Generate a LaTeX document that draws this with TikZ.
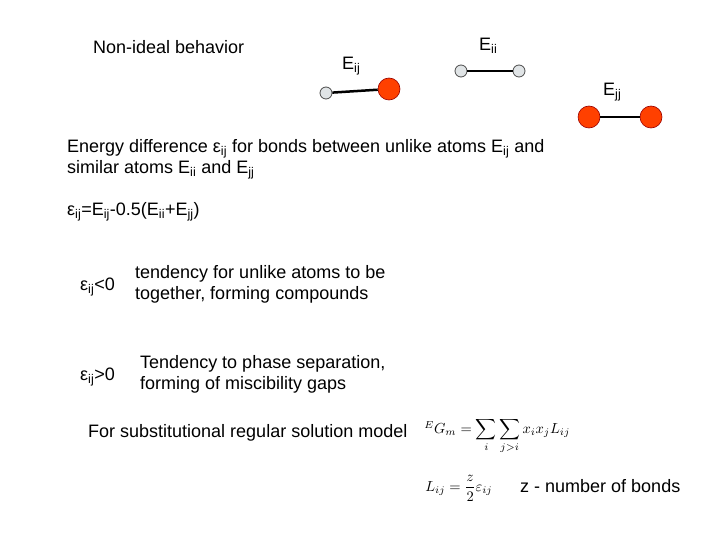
\documentclass[tikz,border=0pt]{standalone}
\usepackage{fontspec}
\setmainfont{Liberation Sans}
\begin{document}
\begin{tikzpicture}[x=1pt,y=-1pt,
  txt/.style={anchor=west,inner sep=0pt,font=\fontsize{18}{21}\selectfont,align=left},
  small/.style={circle,draw=black!70,fill=cyan!10!gray!25,minimum size=12pt,inner sep=0pt,line width=0.8pt},
  big/.style={circle,draw=red!60!black,fill=red!50!orange,minimum size=22pt,inner sep=0pt,line width=0.6pt},
  bond/.style={line width=2.5pt},
  mth/.style={anchor=west,inner sep=0pt,scale=1.45}]
\useasboundingbox[fill=white] (0,0) rectangle (720,540);
\node[small] (a1) at (326,93) {};
\node[big] (a2) at (389,89) {};
\draw[bond] (a1) -- (a2);
\node[small] (b1) at (461,71) {};
\node[small] (b2) at (519,71) {};
\draw[bond] (b1) -- (b2);
\node[big] (c1) at (589,117) {};
\node[big] (c2) at (651,117) {};
\draw[bond] (c1) -- (c2);
\node[txt] (l1) at (342,66) {E\textsubscript{ij}};
\node[txt] (l2) at (479,46) {E\textsubscript{ii}};
\node[txt] (l3) at (603,92) {E\textsubscript{jj}};
\node[txt] (t0) at (93,47) {Non-ideal behavior};
\node[txt,anchor=north west] (t1) at (67,139) {Energy difference ε\textsubscript{ij} for bonds between unlike atoms E\textsubscript{ij} and\\similar atoms E\textsubscript{ii} and E\textsubscript{jj}};
\node[txt] (t2) at (67,212) {ε\textsubscript{ij}=E\textsubscript{ij}-0.5(E\textsubscript{ii}+E\textsubscript{jj})};
\node[txt] (t3) at (80,287) {ε\textsubscript{ij}<0};
\node[txt] (t4) at (135,284) {tendency for unlike atoms to be\\together, forming compounds};
\node[txt] (t5) at (80,377) {ε\textsubscript{ij}>0};
\node[txt] (t6) at (140,374) {Tendency to phase separation,\\forming of miscibility gaps};
\node[txt] (t7) at (88,433) {For substitutional regular solution model};
\node[mth] (f1) at (424,436) {$^{E}G_m=\displaystyle\sum_i\sum_{j>i}x_ix_jL_{ij}$};
\node[mth] (f2) at (425,488) {$L_{ij}=\displaystyle\frac{z}{2}\varepsilon_{ij}$};
\node[txt] (t8) at (520,486) {z - number of bonds};
\end{tikzpicture}
\end{document}
